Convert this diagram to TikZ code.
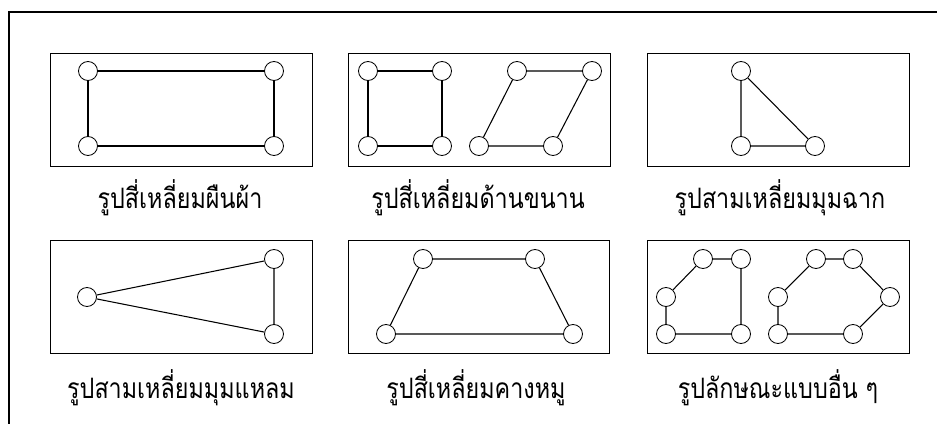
\documentclass[tikz,border=0pt]{standalone}
\usepackage{fontspec}
\newfontfamily\thaifont[Script=Thai]{Loma}
\newcommand\thtxt[1]{\scalebox{0.83}[1]{#1}}
\begin{document}
\begin{tikzpicture}[x=0.03cm,y=-0.03cm,
  vtx/.style={circle,draw,fill=white,line width=0.7pt,minimum size=0.57cm,inner sep=0pt},
  panel/.style={draw,line width=0.7pt},
  link/.style={line width=0.9pt},
  thcap/.style={anchor=base,font=\thaifont\fontsize{24}{28}\selectfont,inner sep=0pt}]
\useasboundingbox (0,0) rectangle (940,424);
\draw[line width=1.4pt] (9,430) -- (9,12) -- (937,12);
% panels
\draw[panel] (50,53) rectangle (312,166);
\draw[panel] (348,53) rectangle (610,166);
\draw[panel] (647,53) rectangle (909,166);
\draw[panel] (50,240) rectangle (312,353);
\draw[panel] (348,240) rectangle (609,353);
\draw[panel] (647,240) rectangle (909,353);
% panel 1: rectangle
\node[vtx] (a1) at (88,71) {};
\node[vtx] (a2) at (274,71) {};
\node[vtx] (a3) at (274,146) {};
\node[vtx] (a4) at (88,146) {};
% panel 2: square and parallelogram
\node[vtx] (b1) at (368,71) {};
\node[vtx] (b2) at (442,71) {};
\node[vtx] (b3) at (442,146) {};
\node[vtx] (b4) at (368,146) {};
\node[vtx] (c1) at (517,71) {};
\node[vtx] (c2) at (592,71) {};
\node[vtx] (c3) at (553,146) {};
\node[vtx] (c4) at (479,146) {};
% panel 3: right triangle
\node[vtx] (d1) at (741,71) {};
\node[vtx] (d2) at (741,146) {};
\node[vtx] (d3) at (815,146) {};
% panel 4: acute triangle
\node[vtx] (e1) at (87,297) {};
\node[vtx] (e2) at (274,259) {};
\node[vtx] (e3) at (274,334) {};
% panel 5: trapezoid
\node[vtx] (f1) at (423,259) {};
\node[vtx] (f2) at (535,259) {};
\node[vtx] (f3) at (573,334) {};
\node[vtx] (f4) at (386,334) {};
% panel 6: pentagon and hexagon
\node[vtx] (g1) at (703,259) {};
\node[vtx] (g2) at (741,259) {};
\node[vtx] (g3) at (741,334) {};
\node[vtx] (g4) at (666,334) {};
\node[vtx] (g5) at (666,297) {};
\node[vtx] (h1) at (816,259) {};
\node[vtx] (h2) at (853,259) {};
\node[vtx] (h3) at (890,297) {};
\node[vtx] (h4) at (853,334) {};
\node[vtx] (h5) at (778,334) {};
\node[vtx] (h6) at (778,297) {};
% edges
\draw[link] (a1)--(a2) (a2)--(a3) (a3)--(a4) (a4)--(a1);
\draw[link] (b1)--(b2) (b2)--(b3) (b3)--(b4) (b4)--(b1);
\draw[link] (c1)--(c2) (c2)--(c3) (c3)--(c4) (c4)--(c1);
\draw[link] (d1)--(d2) (d2)--(d3) (d3)--(d1);
\draw[link] (e1)--(e2) (e2)--(e3) (e3)--(e1);
\draw[link] (f1)--(f2) (f2)--(f3) (f3)--(f4) (f4)--(f1);
\draw[link] (g1)--(g2) (g2)--(g3) (g3)--(g4) (g4)--(g5) (g5)--(g1);
\draw[link] (h1)--(h2) (h2)--(h3) (h3)--(h4) (h4)--(h5) (h5)--(h6) (h6)--(h1);
% captions
\node[thcap] (t1) at (180,208) {\thtxt{รูปสี่เหลี่ยมผืนผ้า}};
\node[thcap] (t2) at (478,208) {\thtxt{รูปสี่เหลี่ยมด้านขนาน}};
\node[thcap] (t3) at (780,208) {\thtxt{รูปสามเหลี่ยมมุมฉาก}};
\node[thcap] (t4) at (181,398) {\thtxt{รูปสามเหลี่ยมมุมแหลม}};
\node[thcap] (t5) at (476,398) {\thtxt{รูปสี่เหลี่ยมคางหมู}};
\node[thcap] (t6) at (778,398) {\thtxt{รูปลักษณะแบบอื่น ๆ}};
\end{tikzpicture}
\end{document}
